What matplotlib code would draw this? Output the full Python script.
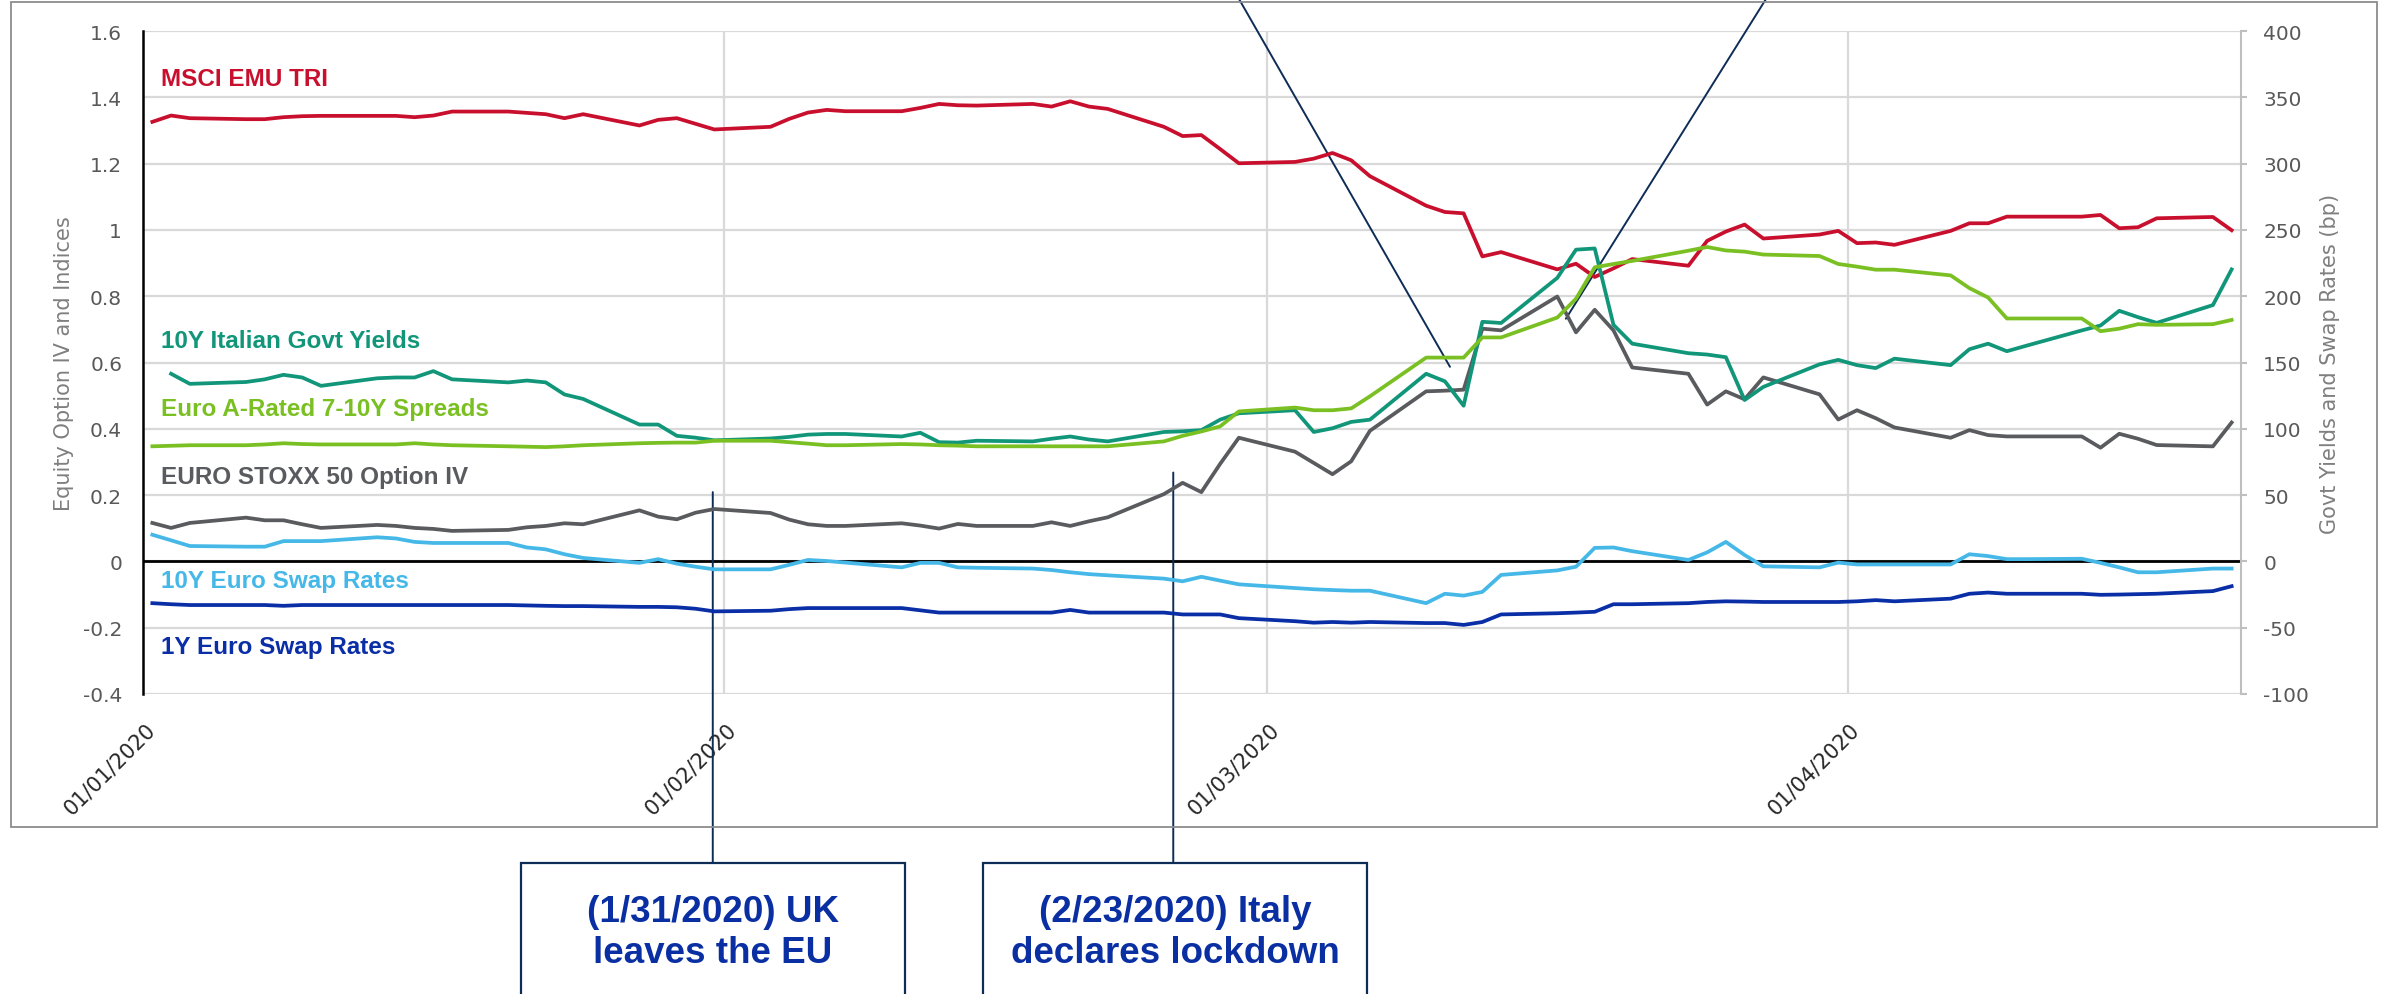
import pandas as pd
import numpy as np
import matplotlib
matplotlib.use("Agg")
import matplotlib.pyplot as plt
import matplotlib.dates as mdates
from matplotlib.patches import Rectangle
from matplotlib.transforms import ScaledTranslation

# --- Data ---
DATES = pd.bdate_range("2020-01-01", "2020-04-21")

MSCI_EMU_TRI = [
    1.326, 1.345, 1.337, 1.334, 1.334, 1.340, 1.343, 1.344, 1.344, 1.344, 1.340, 1.345,
    1.357, 1.357, 1.353, 1.349, 1.337, 1.349, 1.315, 1.332, 1.337, 1.320, 1.303,
    1.311, 1.335, 1.354, 1.362, 1.358, 1.358, 1.368, 1.380, 1.376, 1.375, 1.380, 1.372,
    1.388, 1.372, 1.365, 1.311, 1.283, 1.286, 1.244, 1.201,
    1.205, 1.215, 1.232, 1.210, 1.162, 1.073, 1.054, 1.050, 0.920, 0.933, 0.881, 0.898,
    0.858, 0.884, 0.912, 0.892, 0.967, 0.995, 1.016, 0.974, 0.986, 0.997,
    0.960, 0.962, 0.955, 0.997, 1.020, 1.020, 1.040, 1.040, 1.040, 1.045, 1.005, 1.008,
    1.035, 1.039, 0.999,
]
EUROSTOXX_IV = [
    0.116, 0.101, 0.116, 0.132, 0.124, 0.124, 0.112, 0.101, 0.110, 0.107, 0.101, 0.098,
    0.092, 0.095, 0.103, 0.107, 0.115, 0.112, 0.154, 0.135, 0.127, 0.147, 0.158,
    0.146, 0.126, 0.112, 0.107, 0.107, 0.115, 0.108, 0.099, 0.113, 0.107, 0.107, 0.118,
    0.107, 0.121, 0.133, 0.203, 0.237, 0.209, 0.294, 0.373,
    0.331, 0.297, 0.263, 0.302, 0.394, 0.513, 0.515, 0.518, 0.702, 0.697, 0.799, 0.691,
    0.759, 0.697, 0.585, 0.566, 0.473, 0.513, 0.489, 0.555, 0.504, 0.428,
    0.456, 0.432, 0.404, 0.373, 0.396, 0.381, 0.377, 0.377, 0.377, 0.343, 0.385, 0.370,
    0.351, 0.347, 0.419,
]
# right axis series, in bp
ITALY_10Y = [
    np.nan, 141.5, 133.9, 135.3, 137.3, 140.7, 138.7, 132.4, 138.1, 138.7, 138.7, 143.5,
    137.3, 135.0, 136.4, 135.0, 125.9, 122.5, 103.2, 103.2, 94.7, 93.3, 91.3,
    92.7, 93.9, 95.6, 96.1, 96.1, 94.2, 97.0, 89.9, 89.6, 91.0, 90.5, 92.5,
    94.2, 91.9, 90.5, 97.6, 98.1, 99.0, 106.9, 111.7,
    114.0, 97.6, 100.4, 105.2, 106.9, 141.5, 135.8, 117.4, 180.7, 179.8, 213.8, 235.1,
    236.0, 178.4, 164.2, 157.0, 156.0, 154.0, 121.7, 131.6, 148.6, 152.0,
    148.0, 145.8, 152.9, 148.0, 160.0, 164.2, 158.5, 162.5, 174.2, 177.9, 189.0, 184.2,
    179.9, 193.3, 220.2,
]
EURO_A_SPREADS = [
    86.8, 87.2, 87.6, 87.6, 88.2, 89.1, 88.5, 88.2, 88.2, 88.2, 89.1, 88.2,
    87.6, 86.8, 86.5, 86.2, 86.8, 87.6, 89.1, 89.4, 89.6, 89.6, 91.0,
    91.0, 89.9, 88.8, 87.6, 87.6, 88.5, 88.2, 87.6, 87.3, 86.8, 86.8, 86.8,
    86.8, 86.8, 86.8, 90.5, 94.7, 98.0, 101.8, 113.1,
    116.0, 114.0, 114.0, 115.4, 124.5, 153.7, 153.7, 153.7, 168.9, 168.9, 183.9, 198.1,
    221.8, 224.3, 226.6, 234.3, 237.1, 234.5, 233.6, 231.4, 230.3, 224.3,
    222.3, 220.0, 220.0, 215.7, 206.1, 199.0, 183.2, 183.2, 183.2, 173.6, 175.5, 178.9,
    178.4, 178.9, 182.1,
]
SWAP_10Y = [
    20.1, 15.9, 11.6, 11.1, 11.1, 15.3, 15.3, 15.3, 18.2, 17.3, 14.7, 13.9,
    13.9, 13.9, 10.5, 9.1, 5.4, 2.6, -1.1, 1.7, -1.7, -4.0, -6.0,
    -6.0, -2.6, 1.1, 0.3, -0.9, -4.5, -1.1, -1.1, -4.5, -4.8, -5.4, -6.5,
    -8.2, -9.6, -10.5, -13.0, -15.0, -11.6, -14.5, -17.3,
    -20.1, -21.0, -21.6, -22.1, -22.1, -31.5, -24.4, -25.8, -23.0, -10.2, -6.8, -4.0,
    10.2, 10.5, 7.7, 1.1, 6.8, 14.7, 4.8, -3.7, -4.5, -0.9,
    -2.3, -2.3, -2.3, -2.3, 5.4, 4.0, 1.7, 1.7, 2.0, -1.1, -4.5, -8.2,
    -8.2, -5.4, -5.4,
]
SWAP_1Y = [
    -31.5, -32.3, -32.9, -32.9, -32.9, -33.5, -32.9, -32.9, -32.9, -32.9, -32.9, -32.9,
    -32.9, -32.9, -33.2, -33.5, -33.7, -33.7, -34.3, -34.3, -34.6, -35.7, -37.7,
    -37.2, -36.0, -35.2, -35.2, -35.2, -35.2, -36.9, -38.6, -38.6, -38.6, -38.6, -38.6,
    -36.6, -38.6, -38.6, -38.6, -40.0, -40.0, -40.0, -42.8,
    -45.1, -46.2, -45.7, -46.2, -45.7, -46.5, -46.5, -47.9, -45.7, -40.0, -39.1, -38.6,
    -38.0, -32.3, -32.3, -31.5, -30.6, -30.1, -30.3, -30.6, -30.6, -30.6,
    -30.1, -29.2, -30.1, -28.1, -24.4, -23.5, -24.4, -24.4, -24.4, -25.2, -25.0, -24.7,
    -24.4, -22.4, -18.7,
]

MONTH_TICKS = ["2020-01-01", "2020-02-01", "2020-03-01", "2020-04-01"]
LEFT_TICKS = [-0.4, -0.2, 0, 0.2, 0.4, 0.6, 0.8, 1, 1.2, 1.4, 1.6]
LEFT_LABELS = ["-0.4", "-0.2", "0", "0.2", "0.4", "0.6", "0.8", "1", "1.2", "1.4", "1.6"]
RIGHT_TICKS = [-100, -50, 0, 50, 100, 150, 200, 250, 300, 350, 400]

# events: (label lines, date, left-axis value where the connector starts)
BOTTOM_EVENTS = [
    ("(1/31/2020) UK", "leaves the EU", "2020-01-31 10:00", 0.209),
    ("(2/23/2020) Italy", "declares lockdown", "2020-02-25 00:00", 0.268),
]
TOP_EVENT_POINTS = [("2020-03-10 18:30", 0.587), ("2020-03-16 23:00", 0.732)]

# --- Styles ---
RED = "#c8102e"
TEAL = "#11967a"
GREEN = "#7ac023"
GRAY = "#595b5e"
LIGHT_BLUE = "#45b8e8"
DARK_BLUE = "#0a2ea6"
NAVY = "#0d2c56"
GRID = "#d9d9d9"
TICK_GRAY = "#595959"
W, H = 2392, 995

plt.rcParams["axes.unicode_minus"] = False


def fx(px):
    return px / W


def fy(py):
    return 1 - py / H


fig = plt.figure(figsize=(W / 100, H / 100), dpi=100)
ax = fig.add_axes([fx(143), fy(695), (2241 - 143) / W, (695 - 32) / H])
ax2 = ax.twinx()

x = DATES + pd.Timedelta(hours=12)
lw = 2.7
ax.plot(x, MSCI_EMU_TRI, color=RED, lw=lw, zorder=4)
ax.plot(x, EUROSTOXX_IV, color=GRAY, lw=lw, zorder=4)
ax2.plot(x, ITALY_10Y, color=TEAL, lw=lw, zorder=3)
ax2.plot(x, EURO_A_SPREADS, color=GREEN, lw=lw, zorder=3)
ax2.plot(x, SWAP_10Y, color=LIGHT_BLUE, lw=lw, zorder=3)
ax2.plot(x, SWAP_1Y, color=DARK_BLUE, lw=lw, zorder=3)

ax.set_xlim(pd.Timestamp("2020-01-01"), pd.Timestamp("2020-04-22"))
ax.set_ylim(-0.4, 1.6)
ax2.set_ylim(-100, 400)

ax.axhline(0, color="black", lw=2, zorder=2)

# gridlines
ax.set_yticks(LEFT_TICKS)
ax.set_yticklabels(LEFT_LABELS)
ax.set_xticks(pd.to_datetime(MONTH_TICKS))
ax.xaxis.set_major_formatter(mdates.DateFormatter("%d/%m/%Y"))
ax.grid(True, color=GRID, lw=1.6, zorder=0)
ax.set_axisbelow(True)

for s in ["top", "bottom", "right"]:
    ax.spines[s].set_visible(False)
ax.spines["left"].set_color("black")
ax.spines["left"].set_linewidth(1.8)
ax.spines["left"].set_zorder(5)
for s in ["top", "bottom", "left"]:
    ax2.spines[s].set_visible(False)
ax2.spines["right"].set_color("#bfbfbf")
ax2.spines["right"].set_linewidth(1.5)

ax.tick_params(axis="y", length=0, pad=15, labelsize=14.5, labelcolor=TICK_GRAY)
ax.tick_params(axis="x", length=0, pad=23, labelsize=15)
for lbl in ax.get_xticklabels():
    lbl.set_rotation(45)
    lbl.set_ha("right")
    lbl.set_va("center")
    lbl.set_rotation_mode("anchor")
    lbl.set_color("#262626")
    lbl.set_transform(lbl.get_transform() + ScaledTranslation(0.09, 0, fig.dpi_scale_trans))

ax2.set_yticks(RIGHT_TICKS)
ax2.tick_params(axis="y", length=4, width=1.5, color="#bfbfbf", pad=12,
                labelsize=14.5, labelcolor=TICK_GRAY)

# axis titles
ax.text(-0.0377, 0.5, "Equity Option IV and Indices", transform=ax.transAxes,
        rotation=90, ha="center", va="center", fontsize=15, color="#7f7f7f")
ax.text(1.0424, 0.5, "Govt Yields and Swap Rates (bp)", transform=ax.transAxes,
        rotation=90, ha="center", va="center", fontsize=15, color="#7f7f7f")

# series names inside the plot
labels = [
    ("MSCI EMU TRI", 1.457, RED),
    ("10Y Italian Govt Yields", 0.665, TEAL),
    ("Euro A-Rated 7-10Y Spreads", 0.462, GREEN),
    ("EURO STOXX 50 Option IV", 0.257, GRAY),
    ("10Y Euro Swap Rates", -0.058, LIGHT_BLUE),
    ("1Y Euro Swap Rates", -0.257, DARK_BLUE),
]
for name, yv, col in labels:
    ax.text(0.0085, yv, name, transform=ax.get_yaxis_transform(), color=col,
            fontsize=17.5, fontweight="bold", family="Liberation Sans",
            ha="left", va="center", zorder=6)

# outer chart border
fig.add_artist(Rectangle((fx(11), fy(828)), (2377 - 11) / W, (828 - 3) / H,
                         transform=fig.transFigure, fill=False, ec="#8c8c8c", lw=1.3))

# event boxes below the chart
box_lefts = [521, 983]
box_w = 384
box_top = 864
for (l1, l2, d, yv), bl in zip(BOTTOM_EVENTS, box_lefts):
    fig.add_artist(Rectangle((fx(bl), fy(1010)), box_w / W, (1010 - box_top) / H,
                             transform=fig.transFigure, fc="white", ec=NAVY, lw=1.6))
    ax.annotate("", xy=(pd.Timestamp(d), yv), xycoords="data",
                xytext=(pd.Timestamp(d), fy(box_top)), textcoords=("data", "figure fraction"),
                arrowprops=dict(arrowstyle="-", color=NAVY, lw=1.4, shrinkA=0, shrinkB=0),
                annotation_clip=False)
    cx = fx(bl + box_w / 2)
    fig.text(cx, fy(913), l1, ha="center", va="center", fontsize=26.5,
             fontweight="bold", family="Liberation Sans", color="#0a2fa3")
    fig.text(cx, fy(954), l2, ha="center", va="center", fontsize=26.5,
             fontweight="bold", family="Liberation Sans", color="#0a2fa3")

# connectors to the callouts above (off the top of the picture)
for (d, yv), top_x in zip(TOP_EVENT_POINTS, [1239, 1766]):
    ax.annotate("", xy=(pd.Timestamp(d), yv), xycoords="data",
                xytext=(fx(top_x), 1.0), textcoords="figure fraction",
                arrowprops=dict(arrowstyle="-", color=NAVY, lw=1.4, shrinkA=0, shrinkB=0),
                annotation_clip=False)

fig.savefig("out.png", dpi=100, facecolor="white")
